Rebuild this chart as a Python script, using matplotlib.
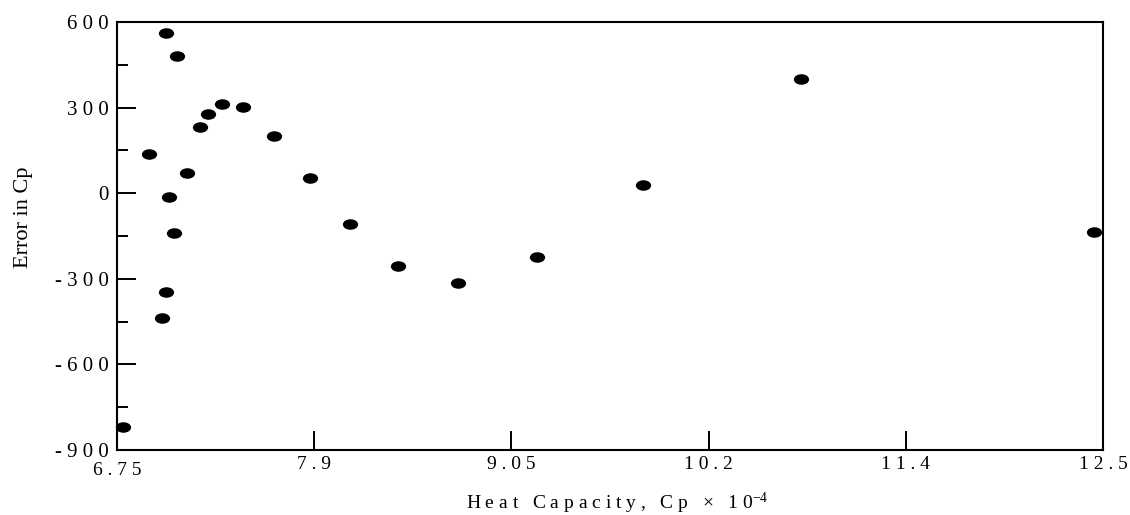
import numpy as np
import matplotlib
matplotlib.use("Agg")
import matplotlib.pyplot as plt
from matplotlib.path import Path
from matplotlib.markers import MarkerStyle
from matplotlib.ticker import FixedLocator
from matplotlib.transforms import ScaledTranslation

# ---- data ----
heat_capacity = [6.787, 6.937, 7.034, 7.102, 7.234, 7.282, 7.361, 7.486, 7.665,
                 7.875, 8.109, 7.160, 7.055, 7.082, 7.034, 7.012, 8.390, 8.740,
                 9.201, 9.815, 10.737, 12.449]
error_cp = [-818, 137, 560, 482, 232, 279, 313, 301, 201,
            52, -109, 70, -13, -139, -346, -439, -254, -316,
            -223, 29, 400, -135]

x_ticks = [6.75, 7.9, 9.05, 10.2, 11.35, 12.5]
x_tick_labels = ["6 . 7 5", "7 . 9", "9 . 0 5", "1 0 . 2", "1 1 . 4", "1 2 . 5"]
y_ticks = [-900, -600, -300, 0, 300, 600]
y_tick_labels = ["- 9 0 0", "- 6 0 0", "- 3 0 0", "0", "3 0 0", "6 0 0"]
y_minor_ticks = [-750, -450, -150, 150, 450]

plt.rcParams['font.family'] = ['Liberation Serif', 'DejaVu Serif']
plt.rcParams['mathtext.fontset'] = 'custom'
plt.rcParams['mathtext.rm'] = 'Liberation Serif'
plt.rcParams['mathtext.it'] = 'Liberation Serif:italic'

fig = plt.figure(figsize=(11.3, 5.15), dpi=100)
ax = fig.add_axes([117 / 1130, 1 - 450 / 515, (1103 - 117) / 1130, (450 - 22) / 515])

# ellipse marker
circ = Path.unit_circle()
ell = Path(circ.vertices * np.array([1.45, 1.0]), circ.codes)
marker = MarkerStyle(ell)

ax.plot(heat_capacity, error_cp, linestyle='none', marker=marker,
        markersize=11, color='black', markeredgewidth=0, clip_on=False)

ax.set_xlim(6.75, 12.5)
ax.set_ylim(-900, 600)

for side in ['left', 'bottom', 'top', 'right']:
    ax.spines[side].set_linewidth(1.5)
    ax.spines[side].set_color('black')

ax.set_xticks(x_ticks)
ax.set_xticklabels(x_tick_labels)
ax.set_yticks(y_ticks)
ax.set_yticklabels(y_tick_labels)
ax.yaxis.set_minor_locator(FixedLocator(y_minor_ticks))

ax.tick_params(axis='x', which='major', direction='in', length=14, width=1.4,
               pad=4, labelsize=14, top=False)
ax.tick_params(axis='y', which='major', direction='in', length=14, width=1.4,
               pad=6, labelsize=15, right=False)
ax.tick_params(axis='y', which='minor', direction='in', length=8, width=1.4,
               right=False)

ax.set_xlabel("H e a t   C a p a c i t y ,   C p   \u00d7   1 0$^{-4}$",
              fontsize=14, va='center')
ax.xaxis.set_label_coords(0.507, -0.124)
ax.set_ylabel("Error in Cp", fontsize=16, va='center', ha='center')
ax.yaxis.set_label_coords(-0.0953, 0.544)

# the first x tick label sits a little lower in the reference
fig.canvas.draw()
first = ax.xaxis.get_major_ticks()[0].label1
first.set_transform(first.get_transform() +
                    ScaledTranslation(0, -0.06, fig.dpi_scale_trans))

fig.savefig("out.png", dpi=100)
